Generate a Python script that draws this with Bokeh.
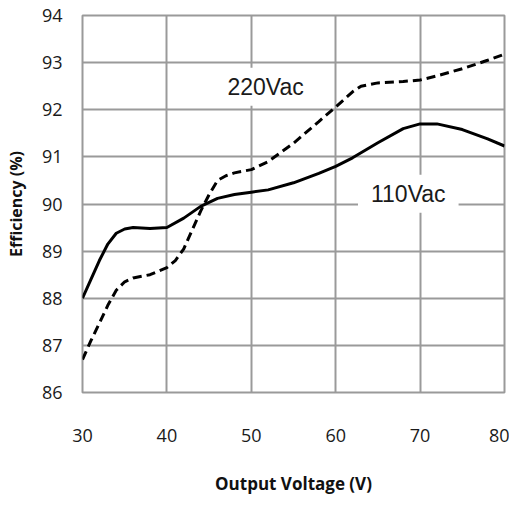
from bokeh.plotting import figure
from bokeh.models import Label, FixedTicker, Range1d
from bokeh.embed import file_html
from bokeh.resources import INLINE

# ---- data ----
x_ticks = [30, 40, 50, 60, 70, 80]
y_ticks = [86, 87, 88, 89, 90, 91, 92, 93, 94]

x_110 = [30, 31, 32, 33, 34, 35, 36, 38, 40, 42, 44, 46, 48, 50, 52, 55, 58, 60, 62, 65, 68, 70, 72, 75, 78, 80]
y_110 = [88.0, 88.4, 88.8, 89.15, 89.38, 89.47, 89.5, 89.48, 89.5, 89.7, 89.95, 90.12, 90.2, 90.25,
         90.3, 90.45, 90.65, 90.8, 90.98, 91.3, 91.6, 91.7, 91.7, 91.58, 91.38, 91.23]

x_220 = [30, 31, 32, 33, 34, 35, 36, 38, 40, 41, 42, 43, 44, 45, 46, 47, 48, 50, 52, 55, 58, 60,
         62, 63, 65, 68, 70, 72, 75, 78, 80]
y_220 = [86.7, 87.1, 87.47, 87.85, 88.17, 88.35, 88.43, 88.5, 88.65, 88.8, 89.05, 89.45, 89.85,
         90.2, 90.5, 90.6, 90.66, 90.73, 90.9, 91.29, 91.75, 92.06, 92.38, 92.5, 92.57, 92.6,
         92.63, 92.72, 92.87, 93.05, 93.18]

series_labels = ["220Vac", "110Vac"]
label_x = [51.7, 68.6]
label_y = [92.49, 90.22]

x_title = "Output Voltage (V)"
y_title = "Efficiency (%)"

# ---- figure ----
p = figure(width=509, height=497, x_range=Range1d(30, 80), y_range=Range1d(86, 94),
           output_backend="svg", toolbar_location=None,
           min_border_left=82, min_border_right=5, min_border_top=15, min_border_bottom=104)

p.background_fill_color = "white"
p.border_fill_color = "white"
p.outline_line_color = "#9a9a9a"
p.outline_line_width = 2

for ax, ticks in ((p.xaxis, x_ticks), (p.yaxis, y_ticks)):
    ax.ticker = FixedTicker(ticks=ticks)
    ax.axis_line_color = None
    ax.major_tick_line_color = None
    ax.minor_tick_line_color = None
    ax.major_tick_out = 0
    ax.major_tick_in = 0
    ax.major_label_text_font = "Open Sans"
    ax.major_label_text_font_size = "18px"
    ax.major_label_text_color = "#1a1a1a"
    ax.axis_label_text_font = "Open Sans"
    ax.axis_label_text_font_style = "bold"
    ax.axis_label_text_color = "#111111"

p.xaxis.axis_label = x_title
p.yaxis.axis_label = y_title
p.xaxis.major_label_standoff = 36
p.xaxis.axis_label_standoff = 27
p.xaxis.axis_label_text_font_size = "17px"
p.yaxis.major_label_standoff = 20
p.yaxis.axis_label_standoff = 12
p.yaxis.axis_label_text_font_size = "16px"

p.xgrid.ticker = FixedTicker(ticks=x_ticks)
p.ygrid.ticker = FixedTicker(ticks=y_ticks)
for g in (p.xgrid, p.ygrid):
    g.grid_line_color = "#9a9a9a"
    g.grid_line_width = 2

p.line(x_110, y_110, line_color="black", line_width=3)
p.line(x_220, y_220, line_color="black", line_width=3, line_dash="9 5")

for txt, lx, ly in zip(series_labels, label_x, label_y):
    p.add_layout(Label(x=lx, y=ly, text=txt, text_align="center", text_baseline="middle",
                       text_font="Liberation Sans", text_font_size="23px",
                       text_color="#1a1a1a", background_fill_color="white",
                       padding=(13, 6)))

open("out.html", "w").write(file_html(p, INLINE))
